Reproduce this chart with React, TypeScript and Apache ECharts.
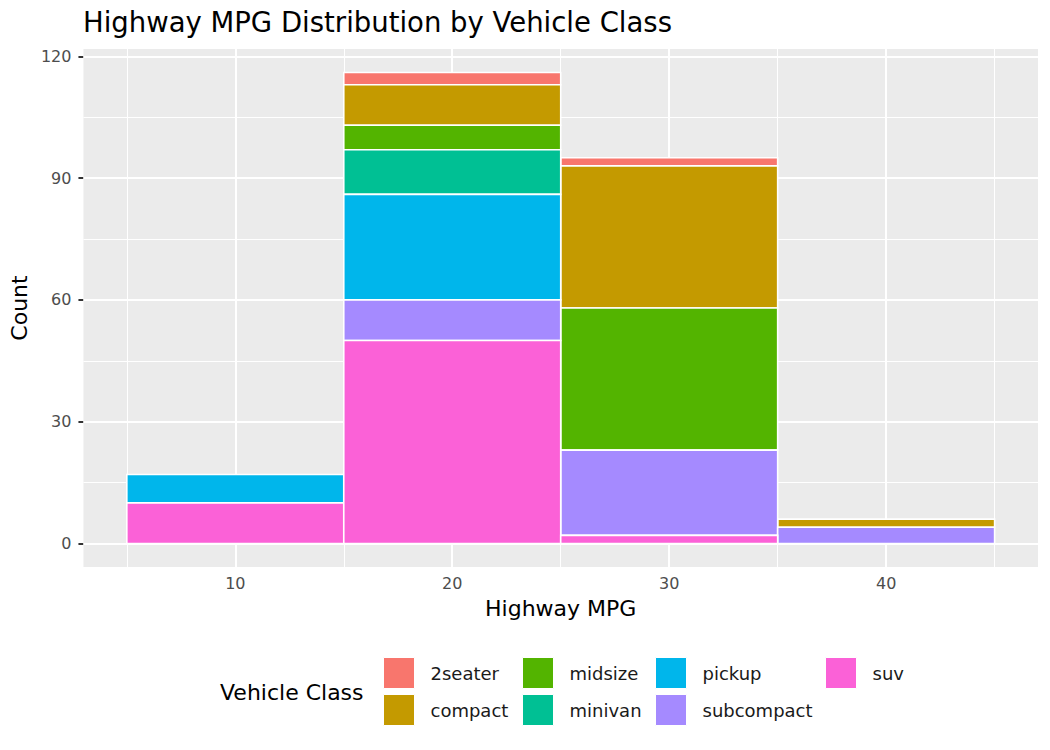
import React, { useEffect, useRef } from "react";
import * as echarts from "echarts";

// Histogram bins (centre of each 10-mpg bin)
const binCenters = [10, 20, 30, 40];
const binWidth = 10;

// Vehicle classes, legend order
const classes = ["2seater", "compact", "midsize", "minivan", "pickup", "subcompact", "suv"];
const classColors = ["#F8766D", "#C49A00", "#53B400", "#00C094", "#00B6EB", "#A58AFF", "#FB61D7"];

// Counts per bin for each class
const count2seater = [0, 3, 2, 0];
const countCompact = [0, 10, 35, 2];
const countMidsize = [0, 6, 35, 0];
const countMinivan = [0, 11, 0, 0];
const countPickup = [7, 26, 0, 0];
const countSubcompact = [0, 10, 21, 4];
const countSuv = [10, 50, 2, 0];

const countsByClass = [
  count2seater,
  countCompact,
  countMidsize,
  countMinivan,
  countPickup,
  countSubcompact,
  countSuv,
];

// Axis ticks
const xTicks = [10, 20, 30, 40];
const xMinor = [5, 15, 25, 35, 45];
const yTicks = [0, 30, 60, 90, 120];
const yMinor = [15, 45, 75, 105];

const FONT = "DejaVu Sans";

function buildStackedRects() {
  // stack from the last class at the bottom to the first class on top
  const base = binCenters.map(() => 0);
  const perClass: number[][][] = classes.map(() => []);
  for (let c = classes.length - 1; c >= 0; c--) {
    const counts = countsByClass[c];
    binCenters.forEach((center, i) => {
      const n = counts[i];
      if (n > 0) {
        perClass[c].push([center - binWidth / 2, center + binWidth / 2, base[i], base[i] + n]);
        base[i] += n;
      }
    });
  }
  return { perClass, maxTotal: Math.max(...base) };
}

export default function App() {
  const ref = useRef<HTMLDivElement>(null);

  useEffect(() => {
    document.body.style.margin = "0";
    if (!ref.current) return;
    const chart = echarts.init(ref.current, undefined, { renderer: "svg" });
    const { perClass, maxTotal } = buildStackedRects();

    const xMin = binCenters[0] - binWidth / 2;
    const xMax = binCenters[binCenters.length - 1] + binWidth / 2;
    const xPad = (xMax - xMin) * 0.05;
    const yPad = maxTotal * 0.05;

    const barSeries = classes.map((name, c) => ({
      type: "custom",
      name,
      z: 5,
      itemStyle: { color: classColors[c] },
      encode: { x: [0, 1], y: [2, 3] },
      data: perClass[c],
      renderItem: (_params: any, api: any) => {
        const p0 = api.coord([api.value(0), api.value(3)]);
        const p1 = api.coord([api.value(1), api.value(2)]);
        return {
          type: "rect",
          shape: { x: p0[0], y: p0[1], width: p1[0] - p0[0], height: p1[1] - p0[1] },
          style: { fill: classColors[c], stroke: "#FFFFFF", lineWidth: 1.6 },
        };
      },
    }));

    const gridLineSeries = {
      type: "line",
      name: "grid",
      data: [],
      silent: true,
      markLine: {
        silent: true,
        z: 1,
        symbol: ["none", "none"],
        label: { show: false },
        emphasis: { disabled: true },
        data: [
          ...xMinor.map((v) => ({ xAxis: v, lineStyle: { color: "#FFFFFF", width: 1, type: "solid" } })),
          ...yMinor.map((v) => ({ yAxis: v, lineStyle: { color: "#FFFFFF", width: 1, type: "solid" } })),
          ...xTicks.map((v) => ({ xAxis: v, lineStyle: { color: "#FFFFFF", width: 2, type: "solid" } })),
          ...yTicks.map((v) => ({ yAxis: v, lineStyle: { color: "#FFFFFF", width: 2, type: "solid" } })),
        ],
      },
    };

    // legend laid out in columns of two keys
    const legendLefts = [383, 522, 655, 825];
    const legends = legendLefts.map((left, k) => ({
      orient: "vertical",
      left,
      top: 657,
      padding: 0,
      icon: "rect",
      itemWidth: 31,
      itemHeight: 31,
      itemGap: 5,
      selectedMode: false,
      data: classes.slice(k * 2, k * 2 + 2),
      itemStyle: { borderColor: "#FFFFFF", borderWidth: 1 },
      textStyle: { fontFamily: FONT, fontSize: 18, color: "#1A1A1A", padding: [0, 0, 0, 11] },
    }));

    chart.setOption({
      animation: false,
      backgroundColor: "#FFFFFF",
      title: [
        {
          text: "Highway MPG Distribution by Vehicle Class",
          left: 83,
          top: 8,
          padding: 0,
          textStyle: { fontFamily: FONT, fontSize: 27.5, fontWeight: "normal", color: "#000000" },
        },
        {
          text: "Vehicle Class",
          left: 220,
          top: 681,
          padding: 0,
          textStyle: { fontFamily: FONT, fontSize: 22, fontWeight: "normal", color: "#000000" },
        },
      ],
      legend: legends,
      grid: {
        left: 83,
        right: 12,
        top: 49,
        bottom: 183,
        show: true,
        backgroundColor: "#EBEBEB",
        borderWidth: 0,
      },
      xAxis: {
        type: "value",
        min: xMin - xPad,
        max: xMax + xPad,
        name: "Highway MPG",
        nameLocation: "middle",
        nameGap: 30,
        nameTextStyle: { fontFamily: FONT, fontSize: 22, color: "#000000" },
        axisLine: { show: false },
        axisTick: { show: true, customValues: xTicks, length: 5, lineStyle: { color: "#333333", width: 2 } },
        axisLabel: { customValues: xTicks, margin: 8, fontFamily: FONT, fontSize: 16, color: "#4D4D4D" },
        splitLine: { show: false },
      },
      yAxis: {
        type: "value",
        min: -yPad,
        max: maxTotal + yPad,
        name: "Count",
        nameLocation: "middle",
        nameGap: 53,
        nameTextStyle: { fontFamily: FONT, fontSize: 22, color: "#000000" },
        axisLine: { show: false },
        axisTick: { show: true, customValues: yTicks, length: 5, lineStyle: { color: "#333333", width: 2 } },
        axisLabel: { customValues: yTicks, margin: 12, fontFamily: FONT, fontSize: 16, color: "#4D4D4D" },
        splitLine: { show: false },
      },
      series: [gridLineSeries, ...barSeries],
    });

    return () => chart.dispose();
  }, []);

  return <div ref={ref} style={{ width: 1050, height: 750 }} />;
}
